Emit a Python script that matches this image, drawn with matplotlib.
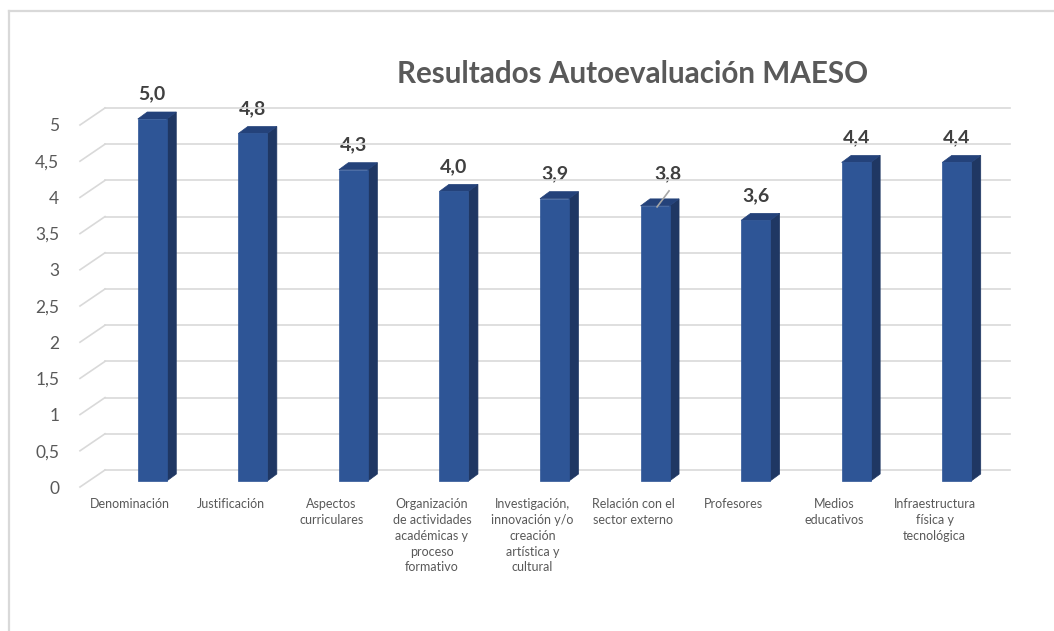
import matplotlib
matplotlib.use('Agg')
import matplotlib.pyplot as plt
from matplotlib.patches import Polygon
from matplotlib.lines import Line2D
from matplotlib.transforms import IdentityTransform

categories = ['Denominación', 'Justificación', 'Aspectos\ncurriculares',
              'Organización\nde actividades\nacadémicas y\nproceso\nformativo',
              'Investigación,\ninnovación y/o\ncreación\nartística y\ncultural',
              'Relación con el\nsector externo', 'Profesores',
              'Medios\neducativos', 'Infraestructura\nfísica y\ntecnológica']
values = [5.0, 4.8, 4.3, 4.0, 3.9, 3.8, 3.6, 4.4, 4.4]
yticks = [0, 0.5, 1, 1.5, 2, 2.5, 3, 3.5, 4, 4.5, 5]
ytick_labels = ['0', '0,5', '1', '1,5', '2', '2,5', '3', '3,5', '4', '4,5', '5']
title = 'Resultados Autoevaluación MAESO'

plt.rcParams['font.family'] = ['Lato', 'DejaVu Sans']

W, H = 1054, 631
fig = plt.figure(figsize=(W / 100, H / 100), dpi=100)
ax = fig.add_axes([80 / W, (H - 487) / H, 905 / W, 362 / H])
ax.set_xlim(-0.5, len(categories) - 0.5)
ax.set_ylim(0, 5)
for s in ax.spines.values():
    s.set_visible(False)
ax.patch.set_visible(False)

ax.set_yticks(yticks, ytick_labels)
ax.tick_params(axis='y', length=0, pad=15, labelcolor='#595959', labelsize=12.5)
ax.set_xticks(range(len(categories)), categories)
ax.tick_params(axis='x', length=0, pad=8, labelcolor='#595959', labelsize=9)
for lbl in ax.get_xticklabels():
    lbl.set_linespacing(1.38)

ID = IdentityTransform()


def P(x, v, dx=0, dy=0):
    d = ax.transData.transform((x, v))
    return (d[0] + dx, d[1] + dy)


grid_c = '#d9d9d9'
BX, BY = 25, 17
for v in yticks:
    a = P(-0.5, v, BX, BY)
    b = P(len(categories) - 0.5, v, BX, BY)
    c = P(-0.5, v)
    fig.add_artist(Line2D([a[0], b[0]], [a[1], b[1]], transform=ID, color=grid_c, lw=1.2, zorder=1))
    fig.add_artist(Line2D([c[0], a[0]], [c[1], a[1]], transform=ID, color=grid_c, lw=1.2, zorder=1))

front_c = '#2e5596'
side_c = '#1f3763'
top_c = '#24427a'
OX, OY = 22, 6
hw = 14.5
DX, DY = 9.5, 7
for i, v in enumerate(values):
    fl = OX - hw
    fr = OX + hw
    front = [P(i, 0, fl, OY), P(i, 0, fr, OY), P(i, v, fr, OY), P(i, v, fl, OY)]
    side = [P(i, 0, fr, OY), P(i, 0, fr + DX, OY + DY), P(i, v, fr + DX, OY + DY), P(i, v, fr, OY)]
    top = [P(i, v, fl, OY), P(i, v, fr, OY), P(i, v, fr + DX, OY + DY), P(i, v, fl + DX, OY + DY)]
    for pts, col in ((side, side_c), (top, top_c), (front, front_c)):
        fig.add_artist(Polygon(pts, closed=True, transform=ID, facecolor=col,
                               edgecolor=col, lw=0.5, zorder=3))
    lab = f'{v:.1f}'.replace('.', ',')
    if i == 5:
        ax.annotate(lab, xy=(i, v), xytext=(35, 38), textcoords='offset pixels',
                    ha='center', va='center', fontsize=14, fontweight='bold',
                    color='#404040', zorder=5, annotation_clip=False)
        a = P(i, v, 24, 5)
        b = P(i, v, 36, 21)
        fig.add_artist(Line2D([a[0], b[0]], [a[1], b[1]], transform=ID,
                              color='#a6a6a6', lw=1.2, zorder=5))
    else:
        ax.annotate(lab, xy=(i, v), xytext=(OX, 31), textcoords='offset pixels',
                    ha='center', va='center', fontsize=14, fontweight='bold',
                    color='#404040', zorder=5, annotation_clip=False)

fig.text(633 / W, 1 - 74 / H, title, ha='center', va='center', fontsize=21.3,
         fontweight='bold', color='#595959')

bc = '#d9d9d9'
fig.add_artist(Line2D([9 / W, 1], [1 - 11 / H, 1 - 11 / H], transform=fig.transFigure, color=bc, lw=1.6))
fig.add_artist(Line2D([9 / W, 9 / W], [0, 1 - 11 / H], transform=fig.transFigure, color=bc, lw=1.6))

fig.savefig('out.png', dpi=100, facecolor='white')
